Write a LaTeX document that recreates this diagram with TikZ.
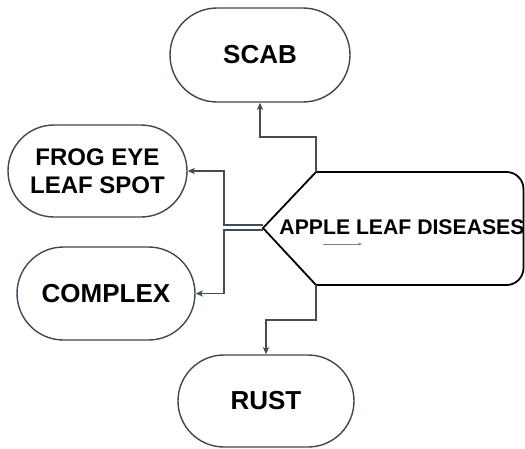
\documentclass[tikz,border=0pt]{standalone}
\usepackage{fontspec}
\setmainfont{Liberation Sans}
\usetikzlibrary{shapes.misc,arrows.meta}
\definecolor{boxline}{HTML}{3E4853}
\definecolor{connline}{HTML}{434D58}
\tikzset{
  pill/.style={rounded rectangle, draw=boxline, line width=1.4pt, inner sep=0pt,
    font=\fontsize{26}{28}\selectfont\bfseries, align=center},
  conn/.style={draw=connline, line width=1.8pt,
    -{Stealth[length=7pt,width=6pt,inset=1.5pt]}},
  mainshape/.style={draw=black, line width=1.8pt},
}
\begin{document}
\begin{tikzpicture}[x=1pt,y=-1pt]
\useasboundingbox (0,0) rectangle (525,448);
% leaf nodes
\node[pill, minimum width=180pt, minimum height=94pt] (scab) at (260,55) {SCAB};
\node[pill, minimum width=179pt, minimum height=92pt, font=\fontsize{24}{28}\selectfont\bfseries] (frog) at (97.5,171) {FROG EYE\\LEAF SPOT};
\node[pill, minimum width=178pt, minimum height=93pt] (complex) at (106,293.5) {COMPLEX};
\node[pill, minimum width=176pt, minimum height=92pt] (rust) at (266,401) {RUST};
% main shape
\coordinate (mtip) at (263,228);
\coordinate (mtl) at (316,172);
\coordinate (mbl) at (316,285);
\coordinate (mtr) at (523.5,172);
\coordinate (mbr) at (523.5,285);
\draw[mainshape] (mtip) -- (mtl) [rounded corners=17pt] -- (mtr) -- (mbr) [sharp corners] -- (mbl) -- cycle;
\node[font=\fontsize{21.2}{24}\selectfont\bfseries, inner sep=0pt] (main) at (402,227.5) {APPLE LEAF DISEASES};
\coordinate (sa1) at (323,244);
\coordinate (sa2) at (362,244);
\draw[draw=gray, line width=0.6pt, -{Stealth[length=4pt,width=3pt]}] (sa1) -- (sa2);
% connectors
\draw[conn] (mtl) -- ++(0,-35) -| (scab.south);
\draw[conn] (mbl) -- ++(0,35) -| (rust.north);
\draw[conn] ([yshift=3pt]mtip) -- ++(-39,0) |- (frog.east);
\draw[conn] ([yshift=-2pt]mtip) -- ++(-39,0) |- (complex.east);
\end{tikzpicture}
\end{document}
